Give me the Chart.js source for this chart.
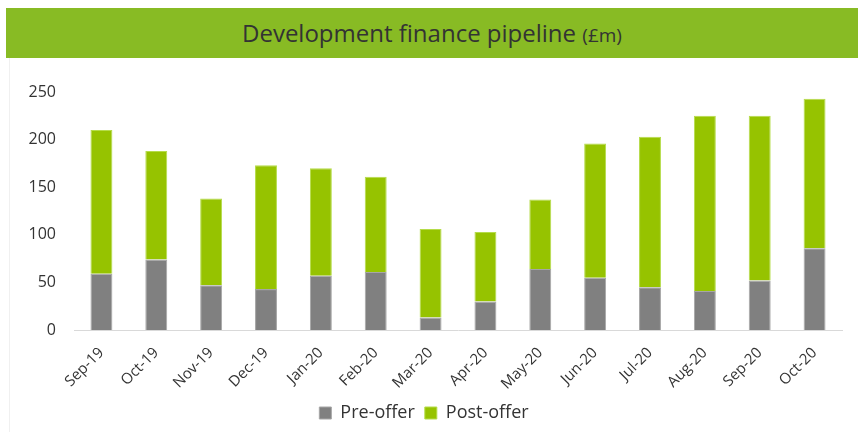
<!DOCTYPE html>
<html>
<head>
<meta charset="utf-8">
<script src="https://cdn.jsdelivr.net/npm/chart.js@4/dist/chart.umd.min.js"></script>
<style>
  body { margin: 0; background: #fff; font-family: "Open Sans", sans-serif; }
  #banner {
    position: absolute; left: 6px; top: 8px; width: 852px; height: 50px;
    background: #88bb24; color: #333; text-align: center; line-height: 50px;
    font-size: 24px;
  }
  #banner small { font-size: 19px; }
  #wrap {
    position: absolute; left: 0; top: 58px; width: 858px; height: 374px;
  }
  #edge { position: absolute; left: 9px; top: 58px; width: 1px; height: 374px; background: #f0f0f0; }
</style>
</head>
<body>
<div id="banner">Development finance pipeline <small>(£m)</small></div>
<div id="edge"></div>
<div id="wrap"><canvas id="pipelineChart"></canvas></div>
<script>
// Months on the x axis
const months = ["Sep-19", "Oct-19", "Nov-19", "Dec-19", "Jan-20", "Feb-20", "Mar-20",
  "Apr-20", "May-20", "Jun-20", "Jul-20", "Aug-20", "Sep-20", "Oct-20"];
// Stacked values, £m
const preOffer = [59, 74, 47, 43, 57, 61, 13, 30, 64, 55, 45, 41, 52, 86];
const postOffer = [151, 114, 91, 130, 113, 100, 93, 73, 73, 141, 158, 184, 173, 157];
const yTicks = [0, 50, 100, 150, 200, 250];

const ctx = document.getElementById("pipelineChart").getContext("2d");
const config = {
  type: "bar",
  data: {
    labels: months,
    datasets: [
      {
        label: "Pre-offer",
        data: preOffer,
        backgroundColor: "#808080",
        borderColor: "#a6a6a6",
        borderWidth: 1,
        barPercentage: 0.8,
        categoryPercentage: 0.5,
      },
      {
        label: "Post-offer",
        data: postOffer,
        backgroundColor: "#96c300",
        borderColor: "#b5dc4a",
        borderWidth: 1,
        barPercentage: 0.8,
        categoryPercentage: 0.5,
      },
    ],
  },
  options: {
    responsive: true,
    maintainAspectRatio: false,
    animation: false,
    layout: { padding: { left: 6, right: 16, top: 34, bottom: 0 } },
    plugins: {
      legend: {
        position: "bottom",
        labels: {
          color: "#333",
          font: { family: "Open Sans", size: 18 },
          boxWidth: 12,
          boxHeight: 12,
          padding: 10,
        },
      },
      tooltip: { enabled: false },
    },
    scales: {
      x: {
        stacked: true,
        grid: { display: false },
        border: { color: "#d9d9d9", width: 1 },
        afterFit: (scale) => {
          scale.height = 64;
        },
        ticks: {
          color: "#333",
          font: { family: "Open Sans", size: 15 },
          maxRotation: 45,
          minRotation: 45,
          padding: 6,
        },
      },
      y: {
        stacked: true,
        min: 0,
        max: 250,
        afterBuildTicks: (scale) => {
          scale.ticks = yTicks.map((v) => ({ value: v }));
        },
        afterFit: (scale) => {
          scale.width = 68;
        },
        grid: { display: false },
        border: { display: false },
        ticks: {
          color: "#333",
          font: { family: "Open Sans", size: 16 },
          padding: 10,
        },
      },
    },
  },
};

const pipelineChart = new Chart(ctx, config);
</script>
</body>
</html>
